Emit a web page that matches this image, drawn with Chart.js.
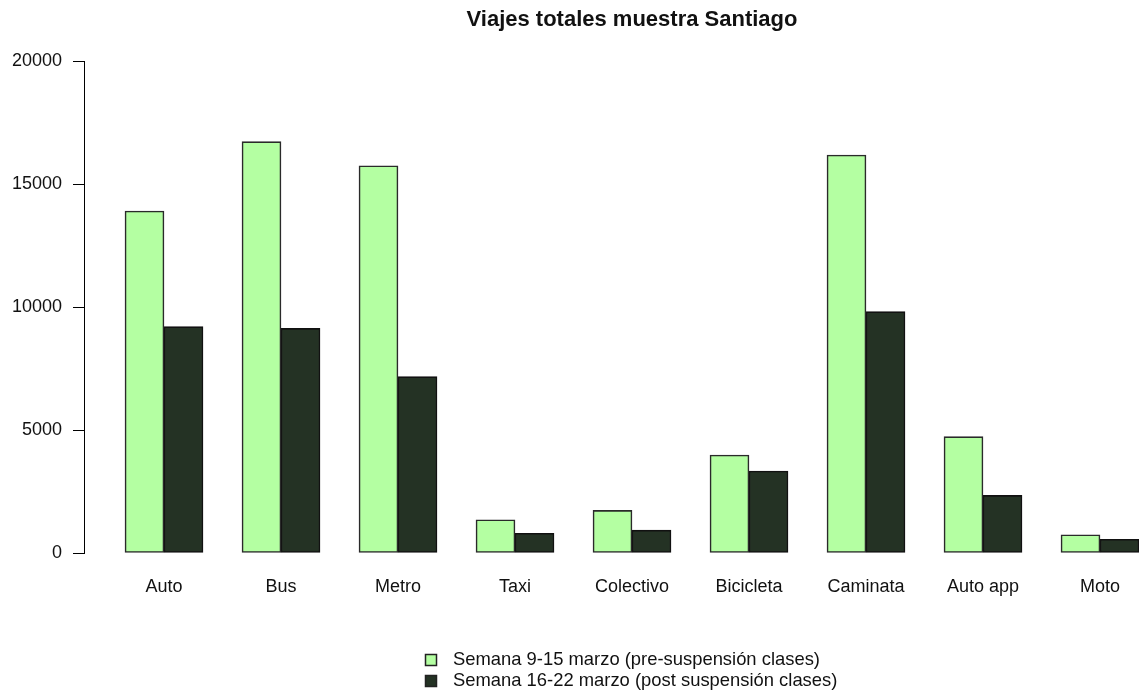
<!DOCTYPE html>
<html>
<head>
<meta charset="utf-8">
<title>Viajes totales muestra Santiago</title>
<script src="https://cdn.jsdelivr.net/npm/chart.js@4/dist/chart.umd.min.js"></script>
<style>
    html, body { margin: 0; padding: 0; background: #fff; overflow: hidden; }
    #wrap { width: 1264px; height: 693px; }
</style>
</head>
<body>
<div id="wrap"><canvas id="viajesChart" width="1264" height="693"></canvas></div>
<script>
// Datos
const categorias = ['Auto', 'Bus', 'Metro', 'Taxi', 'Colectivo', 'Bicicleta', 'Caminata', 'Auto app', 'Moto'];
const semanaPre = [13900, 16720, 15740, 1350, 1730, 3980, 16180, 4730, 740];
const semanaPost = [9200, 9130, 7170, 800, 930, 3330, 9810, 2340, 560];
const yTicks = [0, 5000, 10000, 15000, 20000];

const FONT = '"Liberation Sans", Arial, sans-serif';

// Leyenda al estilo R: dos filas, cuadros a la izquierda
const leyendaR = {
    id: 'leyendaR',
    afterDraw(chart) {
        const ctx = chart.ctx;
        ctx.save();
        ctx.font = '18.4px ' + FONT;
        ctx.textBaseline = 'middle';
        ctx.textAlign = 'left';
        chart.data.datasets.forEach((ds, i) => {
            const y = 660 + i * 21;
            ctx.fillStyle = ds.backgroundColor;
            ctx.fillRect(425, y - 6, 12, 12);
            ctx.strokeStyle = '#222';
            ctx.lineWidth = 1.5;
            ctx.strokeRect(425.5, y - 5.5, 11, 11);
            ctx.fillStyle = '#111';
            ctx.fillText(ds.label, 453, y);
        });
        ctx.restore();
    }
};

const ctx = document.getElementById('viajesChart').getContext('2d');

const viajesChart = new Chart(ctx, {
    type: 'bar',
    data: {
        datasets: [
            {
                label: 'Semana 9-15 marzo (pre-suspensión clases)',
                data: semanaPre.map((v, i) => ({ x: i, y: v })),
                backgroundColor: '#B4FFA2',
                borderColor: '#2a2a2a',
                borderWidth: 1.6,
                borderSkipped: false
            },
            {
                label: 'Semana 16-22 marzo (post suspensión clases)',
                data: semanaPost.map((v, i) => ({ x: i, y: v })),
                backgroundColor: '#243224',
                borderColor: '#111',
                borderWidth: 1.6,
                borderSkipped: false
            }
        ]
    },
    options: {
        responsive: false,
        animation: false,
        barThickness: 39,
        layout: { padding: 0 },
        plugins: {
            legend: { display: false },
            tooltip: { enabled: false },
            title: {
                display: true,
                text: 'Viajes totales muestra Santiago',
                color: '#111',
                font: { family: FONT, size: 22, weight: 'bold' },
                padding: { top: 7, bottom: 27.6 }
            }
        },
        scales: {
            x: {
                type: 'linear',
                offset: false,
                min: -80 / 117,
                max: 1100 / 117,
                grid: { display: false, drawTicks: false },
                border: { display: false },
                ticks: {
                    autoSkip: false,
                    maxRotation: 0,
                    padding: 23,
                    color: '#111',
                    font: { family: FONT, size: 18 },
                    callback: (v, i) => categorias[i]
                },
                afterBuildTicks: (scale) => {
                    scale.ticks = categorias.map((c, i) => ({ value: i }));
                },
                afterFit: (scale) => { scale.height = 140; }
            },
            y: {
                min: 0,
                max: 20000,
                grid: { drawOnChartArea: false, drawTicks: true, tickLength: 11, color: '#000' },
                border: { display: true, color: '#000', width: 1 },
                ticks: {
                    color: '#111',
                    padding: 11,
                    font: { family: FONT, size: 18 },
                    callback: (v) => String(v)
                },
                afterBuildTicks: (scale) => {
                    scale.ticks = yTicks.map(v => ({ value: v }));
                },
                afterFit: (scale) => { scale.width = 84; }
            }
        }
    },
    plugins: [leyendaR]
});
</script>
</body>
</html>
